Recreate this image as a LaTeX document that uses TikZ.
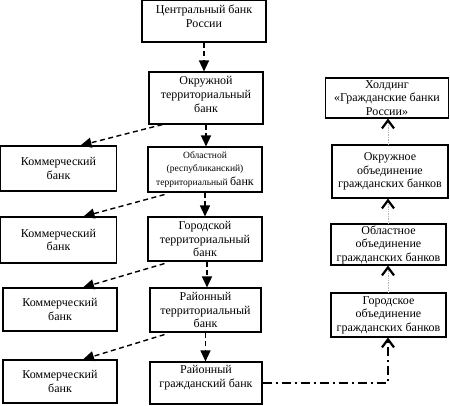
\documentclass[tikz,border=0pt]{standalone}
\usepackage{fontspec}
\setmainfont{Liberation Serif}
\usetikzlibrary{arrows.meta,calc}
\begin{document}
\begin{tikzpicture}[x=1pt,y=-1pt,
 box/.style={draw,line width=1.1pt,align=center,inner sep=1pt,font=\fontsize{12}{13.5}\selectfont},
 txt/.style={align=center,inner sep=0pt,font=\fontsize{12}{14}\selectfont},
 dsh/.style={line width=1.4pt,dash pattern=on 5pt off 3.5pt,-{Triangle[length=11pt,width=10pt]}},
 upar/.style={draw=gray!60,line width=0.7pt,densely dotted,-{Straight Barb[length=8pt,width=12pt,line width=2.2pt,color=black]}},
 ddash/.style={line width=1.3pt,dash pattern=on 9pt off 4pt on 2pt off 4pt,-{Straight Barb[length=8pt,width=12pt,line width=2.2pt]}}
]
\useasboundingbox (0,0) rectangle (450,405);
% left column
\node[box,minimum width=124pt,minimum height=41.5pt] (cb) at (204,21.25) {};
\node[txt] (cbt) at ($(cb.center)+(0,-5)$) {Центральный банк\\России};
\node[box,minimum width=114pt,minimum height=52pt] (okr) at (206,98) {};
\node[txt] (okrt) at ($(okr.center)+(0,-3.5)$) {Окружной\\территориальный\\банк};
\node[box,minimum width=114pt,minimum height=45pt,font=\fontsize{9.5}{13.5}\selectfont] (obl) at (205,169.5) {Областной\\(республиканский)\\территориальный {\fontsize{12}{13}\selectfont банк}};
\node[box,minimum width=114pt,minimum height=44pt] (gor) at (205,239) {Городской\\территориальный\\банк};
\node[box,minimum width=111pt,minimum height=44pt] (rt) at (205.5,310) {Районный\\территориальный\\банк};
\node[box,minimum width=112pt,minimum height=42pt] (rg) at (206,383) {};
\node[txt] (rgt) at ($(rg.center)+(0,-5)$) {Районный\\гражданский банк};
% commercial banks
\node[box,minimum width=116pt,minimum height=45pt] (k1) at (58.5,168.5) {Коммерческий\\банк};
\node[box,minimum width=116pt,minimum height=46pt] (k2) at (58.5,240) {Коммерческий\\банк};
\node[box,minimum width=114pt,minimum height=43pt] (k3) at (60,309.5) {Коммерческий\\банк};
\node[box,minimum width=114pt,minimum height=43pt] (k4) at (60,381.5) {Коммерческий\\банк};
% right column
\node[box,minimum width=123pt,minimum height=40pt] (hold) at (387,98) {Холдинг\\«Гражданские банки\\России»};
\node[box,minimum width=116pt,minimum height=53pt] (okro) at (390,171.5) {Окружное\\объединение\\гражданских банков};
\node[box,minimum width=115pt,minimum height=41pt] (oblo) at (388.5,244.5) {Областное\\объединение\\гражданских банков};
\node[box,minimum width=115pt,minimum height=44pt] (goro) at (388.5,315) {Городское\\объединение\\гражданских банков};
% vertical dashed arrows
\draw[dsh] (cb.south) -- (cb.south |- okr.north);
\draw[dsh] (okr.south) -- (okr.south |- obl.north);
\draw[dsh] (obl.south) -- (obl.south |- gor.north);
\draw[dsh] ($(gor.south)+(2,0)$) -- ($(gor.south |- rt.north)+(2,0)$);
\draw[dsh] (rt.south) -- (rt.south |- rg.north);
% diagonal dashed arrows
\draw[dsh] ($(okr.south west)+(14,0)$) -- ($(k1.north)+(22,0)$);
\draw[dsh] ($(obl.south west)+(17,2)$) -- ($(k2.north)+(25,0)$);
\draw[dsh] ($(gor.south west)+(17,2)$) -- ($(k3.north)+(23,0)$);
\draw[dsh] ($(rt.south west)+(15,2)$) -- ($(k4.north)+(23,0)$);
% right column arrows
\coordinate (cx) at (388,0);
\draw[upar] (cx |- goro.north) -- (cx |- oblo.south);
\draw[upar] (cx |- oblo.north) -- (cx |- okro.south);
\draw[upar] (cx |- okro.north) -- (cx |- hold.south);
\draw[ddash] (rg.east) -| (cx |- goro.south);
\end{tikzpicture}
\end{document}
